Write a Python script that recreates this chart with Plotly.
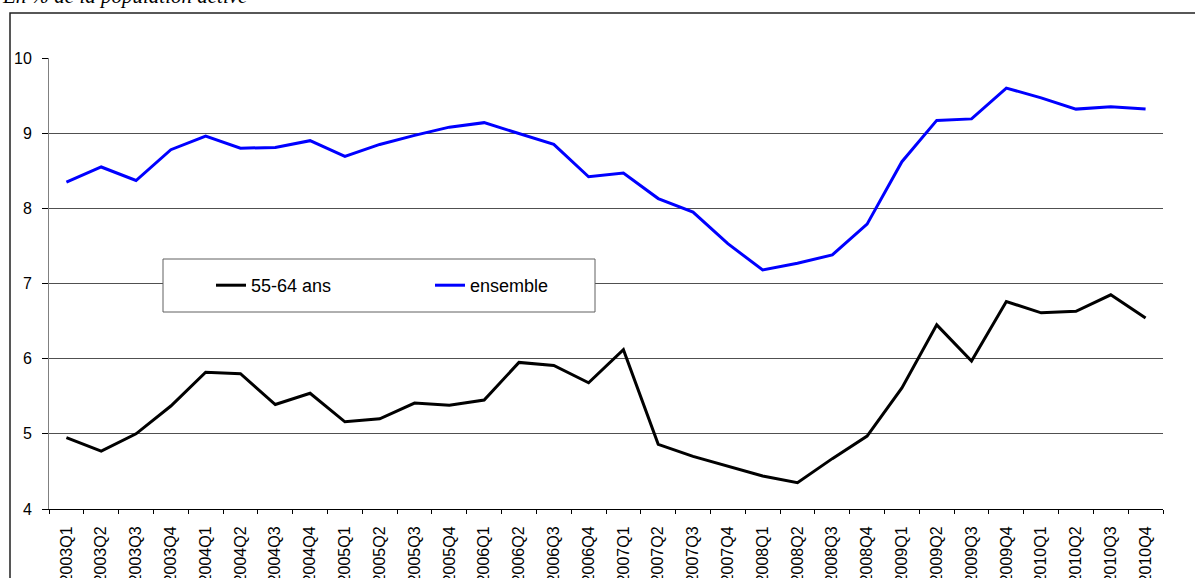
import plotly.graph_objects as go

# quarters on the x axis
quarters = [f"{y}Q{q}" for y in range(2003, 2011) for q in range(1, 5)]

# taux de chomage, en % de la population active
age_55_64 = [4.95, 4.77, 5.00, 5.37, 5.82, 5.80, 5.39, 5.54,
             5.16, 5.20, 5.41, 5.38, 5.45, 5.95, 5.91, 5.68,
             6.12, 4.86, 4.70, 4.57, 4.44, 4.35, 4.67, 4.97,
             5.61, 6.45, 5.97, 6.76, 6.61, 6.63, 6.85, 6.54]
ensemble = [8.35, 8.55, 8.37, 8.78, 8.96, 8.80, 8.81, 8.90,
            8.69, 8.85, 8.97, 9.08, 9.14, 8.99, 8.85, 8.42,
            8.47, 8.13, 7.95, 7.53, 7.18, 7.27, 7.38, 7.79,
            8.62, 9.17, 9.19, 9.60, 9.47, 9.32, 9.35, 9.32]

W, H = 1195, 578
L, R, T, B = 49, 32, 58, 69
plot_w = W - L - R
plot_h = H - T - B


def px_x(p):
    # pixel -> paper x
    return (p - L) / plot_w


def px_y(p):
    # pixel -> paper y
    return (H - B - p) / plot_h


font = 'Liberation Sans, Arial, sans-serif'

fig = go.Figure()
fig.add_trace(go.Scatter(x=quarters, y=age_55_64, mode='lines', name='55-64 ans',
                         line=dict(color='black', width=3)))
fig.add_trace(go.Scatter(x=quarters, y=ensemble, mode='lines', name='ensemble',
                         line=dict(color='#0000ff', width=3)))

fig.update_layout(
    width=W, height=H,
    margin=dict(l=L, r=R, t=T, b=B),
    plot_bgcolor='white',
    paper_bgcolor='white',
    font=dict(family=font, color='black'),
    showlegend=True,
    legend=dict(
        orientation='h',
        x=px_x(211), xanchor='left',
        y=px_y(285.5), yanchor='middle',
        bgcolor='rgba(0,0,0,0)',
        borderwidth=0,
        font=dict(size=18, family=font),
        entrywidth=174,
        entrywidthmode='pixels',
    ),
    xaxis=dict(
        type='category',
        tickangle=-90,
        tickson='boundaries',
        ticks='outside', ticklen=4, tickcolor='black',
        showline=True, linecolor='black', linewidth=1,
        showgrid=False,
        tickfont=dict(size=16, family=font),
        ticklabelstandoff=10,
        automargin=False,
        range=[-0.5, len(quarters) - 0.5],
    ),
    yaxis=dict(
        range=[4, 10], dtick=1,
        ticks='outside', ticklen=6, tickcolor='black',
        showline=True, linecolor='#808080', linewidth=1,
        gridcolor='#505050', gridwidth=1,
        tickfont=dict(size=16, family=font),
        ticklabelstandoff=7,
        automargin=False,
        zeroline=False,
    ),
    shapes=[
        # outer frame of the chart
        dict(type='rect', xref='paper', yref='paper',
             x0=px_x(10), x1=px_x(1210), y0=px_y(600), y1=px_y(13),
             line=dict(color='#202020', width=1.5), layer='below'),
        # legend box
        dict(type='rect', xref='paper', yref='paper',
             x0=px_x(163), x1=px_x(595), y0=px_y(312), y1=px_y(259),
             line=dict(color='#606060', width=1), fillcolor='white', layer='above'),
    ],
    annotations=[
        dict(text='<i>En % de la population active</i>', xref='paper', yref='paper',
             x=px_x(0), xanchor='left', y=px_y(-4), yanchor='middle',
             showarrow=False, font=dict(family='Liberation Serif, Times New Roman, serif', size=21))
    ],
)

# the page body has a default 8px margin; drop it so the chart sits at the top-left
fig.write_html("out.html", config={'displayModeBar': False},
               post_script="document.body.style.margin='0';")
